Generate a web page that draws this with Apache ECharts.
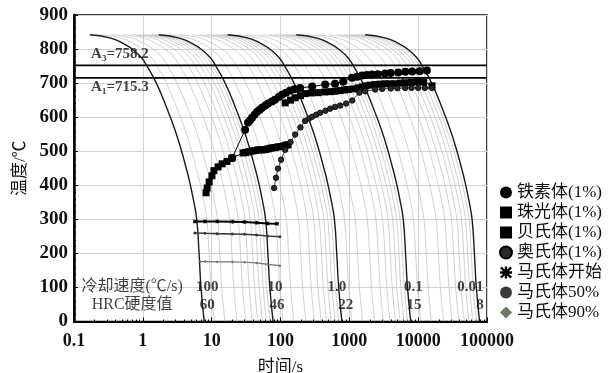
<!DOCTYPE html>
<html>
<head>
<meta charset="utf-8">
<script src="https://cdn.jsdelivr.net/npm/echarts@6/dist/echarts.min.js"></script>
<style>html,body{margin:0;padding:0;background:#fff;}#c{width:614px;height:373px;}</style>
</head>
<body>
<div id="c"></div>
<script>
// ---- data ----
// base cooling curve (100 °C/s), time in s and temperature in °C
const coolTimes = [0.17, 0.33, 0.5, 0.72, 0.95, 1.15, 1.57, 2.2, 2.9, 3.6, 4.2, 4.7, 5.4, 6.07, 6.56, 7.0, 7.8];
const coolTemps = [842, 833, 818, 798, 775, 750, 700, 630, 565, 505, 455, 417, 360, 300, 200, 100, 0];
// bold curves: 100, 10, 1.0, 0.1, 0.01 °C/s (time scale of each)
const boldScales = [1, 10, 100, 1000, 10000];
// thin curves inside each decade (time scale relative to bold curve)
const thinScales = [1.4, 2, 3, 4, 5, 6, 7, 8, 9];

const ferriteTime = [19.8, 30.6, 33.8, 36, 38.6, 42, 45.7, 50, 54, 60, 66, 75, 83, 94, 105, 120, 138, 160, 193, 288, 446, 620, 815, 1096, 1300, 1535, 1800, 2140, 2600, 3300, 4000, 5130, 6500, 8200, 10500, 13400];
const ferriteTemp = [480, 563, 584, 590, 598, 607, 616, 622, 628, 634, 640, 646, 651, 659, 666, 672, 678, 682, 686, 690, 696, 698, 704, 716, 719, 722, 724, 725, 726, 728, 730, 731, 733, 734, 735, 737];

const pearliteTime = [117, 140, 163, 195, 228, 280, 352, 440, 530, 620, 735, 850, 960, 1150, 1350, 1550, 1750, 2000, 2370, 2800, 3300, 3900, 4650, 5500, 6460, 8000, 10000, 12000, 15900];
const pearliteTemp = [642, 650, 657, 663, 669, 671, 672, 674, 675, 676, 678, 680, 681, 683, 686, 689, 692, 694, 696, 697, 698, 698, 698, 700, 701, 702, 704, 703, 692];

const bainiteTime = [8.3, 8.6, 9.2, 10.1, 10.8, 12.4, 14.2, 16.7, 19.8, 28.6, 31, 33.8, 36, 40, 43, 47, 51, 56, 61, 66, 72, 78, 85, 92, 102, 113, 121, 129];
const bainiteTemp = [378, 392, 410, 428, 443, 454, 463, 470, 480, 495, 496, 498, 499, 501, 502, 504, 504, 504, 505, 507, 509, 510, 511, 513, 514, 516, 518, 519];

const austeniteTime = [80.7, 86, 92, 102, 117, 140, 163, 195, 228, 260, 288, 330, 377, 450, 525, 620, 735, 900, 1100, 1400, 1700, 2370, 3000, 4000, 5000, 6460, 8000, 10000, 12500, 15900];
const austeniteTemp = [392, 422, 449, 475, 504, 527, 549, 570, 589, 596, 601, 607, 613, 619, 625, 630, 634, 640, 649, 672, 676, 681, 683, 684, 685, 686, 686, 686, 686, 686];

const msTime = [5.7, 8, 12, 20, 30, 45, 65, 89];
const msTemp = [294, 294, 294, 293, 292, 290, 288, 287];
const m50Time = [5.7, 8, 12, 20, 30, 45, 65, 98];
const m50Temp = [260, 259, 258, 257, 256, 254, 251, 249];
const m90Time = [6.8, 8, 12, 20, 30, 45, 65, 98];
const m90Temp = [176, 176, 175, 175, 174, 172, 168, 164];

const A3 = 752.2, A1 = 715.3;
const A3Label = 'A₃=758.2', A1Label = 'A₁=715.3';

const rateTitle = '冷却速度(℃/s)';
const hrcTitle = 'HRC硬度值';
const rateLabels = ['100', '10', '1.0', '0.1', '0.01'];
const rateLabelTimes = [8.6, 83, 660, 8500, 57500];
const hrcLabels = ['60', '46', '22', '15', '8'];
const hrcLabelTimes = [8.6, 89, 890, 8700, 79000];

const legendNames = ['铁素体(1%)', '珠光体(1%)', '贝氏体(1%)', '奥氏体(1%)', '马氏体开始', '马氏体50%', '马氏体90%'];

// ---- build ----
const serif = "'Liberation Serif','Noto Sans CJK SC',serif";
const zip = (a, b) => a.map((v, i) => [v, b[i]]);
const starPath = 'path://M4,0H6V4H10V6H6V10H4V6H0V4H4Z M1.4,0L5,3.6L8.6,0L10,1.4L6.4,5L10,8.6L8.6,10L5,6.4L1.4,10L0,8.6L3.6,5L0,1.4Z';

const series = [];
boldScales.forEach((s, i) => {
  if (i < boldScales.length - 1) {
    thinScales.forEach(m => {
      series.push({
        type: 'line', silent: true, showSymbol: false, smooth: true, z: 1,
        data: coolTimes.map((t, k) => [t * s * m, coolTemps[k]]),
        lineStyle: { color: '#bcbcbc', width: 0.7 }
      });
    });
  }
  series.push({
    type: 'line', silent: true, showSymbol: false, smooth: true, z: 2,
    data: coolTimes.map((t, k) => [t * s, coolTemps[k]]),
    lineStyle: { color: '#1a1a1a', width: 1.4 }
  });
});

// critical lines
[A3, A1].forEach(v => series.push({
  type: 'line', silent: true, showSymbol: false, z: 3,
  data: [[0.1, v], [100000, v]],
  lineStyle: { color: '#000', width: 1.8 }
}));

series.push({
  name: legendNames[0], type: 'line', z: 6, data: zip(ferriteTime, ferriteTemp),
  symbol: 'circle', symbolSize: 8, itemStyle: { color: '#000' }, lineStyle: { color: '#000', width: 1 }
});
series.push({
  name: legendNames[1], type: 'line', z: 6, data: zip(pearliteTime, pearliteTemp),
  symbol: 'rect', symbolSize: 7, itemStyle: { color: '#000' }, lineStyle: { color: '#000', width: 1 }
});
series.push({
  name: legendNames[2], type: 'line', z: 6, data: zip(bainiteTime, bainiteTemp),
  symbol: 'rect', symbolSize: 7, itemStyle: { color: '#000' }, lineStyle: { color: '#000', width: 1 }
});
series.push({
  name: legendNames[3], type: 'line', z: 6, data: zip(austeniteTime, austeniteTemp),
  symbol: 'circle', symbolSize: 5.5, itemStyle: { color: '#2a2a2a', borderColor: '#000', borderWidth: 0.8 },
  lineStyle: { color: '#333', width: 0.9 }
});
series.push({
  name: legendNames[4], type: 'line', z: 5, data: zip(msTime, msTemp),
  symbol: starPath, symbolSize: 4, itemStyle: { color: '#000' }, lineStyle: { color: '#000', width: 2 }
});
series.push({
  name: legendNames[5], type: 'line', z: 5, data: zip(m50Time, m50Temp),
  symbol: 'circle', symbolSize: 3, itemStyle: { color: '#3a3a3a' }, lineStyle: { color: '#3a3a3a', width: 1.6 }
});
series.push({
  name: legendNames[6], type: 'line', z: 5, data: zip(m90Time, m90Temp),
  symbol: 'diamond', symbolSize: 3, itemStyle: { color: '#6b7a64' }, lineStyle: { color: '#6b7a64', width: 1.2 }
});

// text labels placed in data coordinates
const textData = [];
textData.push({ value: [0.177, 785, A3Label], label: { align: 'left' } });
textData.push({ value: [0.177, 687, A1Label], label: { align: 'left' } });
textData.push({ value: [0.7, 101, rateTitle], label: { fontSize: 16, fontWeight: 'normal' } });
textData.push({ value: [0.7, 49, hrcTitle], label: { fontSize: 16, fontWeight: 'normal' } });
rateLabels.forEach((t, i) => textData.push({ value: [rateLabelTimes[i], 101, t] }));
hrcLabels.forEach((t, i) => textData.push({ value: [hrcLabelTimes[i], 49, t] }));
series.push({
  type: 'scatter', silent: true, z: 8, symbolSize: 0, data: textData,
  label: {
    show: true, position: 'inside', formatter: p => p.value[2],
    fontFamily: serif, fontSize: 15, fontWeight: 'bold', color: '#111', align: 'center', verticalAlign: 'middle'
  }
});

const chart = echarts.init(document.getElementById('c'), null, { renderer: 'canvas' });
chart.setOption({
  animation: false,
  backgroundColor: '#fff',
  grid: {
    left: 74, right: 127, top: 15, bottom: 51.5, containLabel: false, outerBoundsMode: 'none',
    show: true, borderColor: '#000', borderWidth: 1.5
  },
  legend: {
    orient: 'vertical', left: 494, top: 179, itemWidth: 12, itemHeight: 12, itemGap: 3, selectedMode: false,
    textStyle: { fontFamily: serif, fontSize: 17, lineHeight: 17, color: '#111' },
    data: [
      { name: legendNames[0], icon: 'circle' },
      { name: legendNames[1], icon: 'rect' },
      { name: legendNames[2], icon: 'rect' },
      { name: legendNames[3], icon: 'circle' },
      { name: legendNames[4], icon: starPath },
      { name: legendNames[5], icon: 'circle' },
      { name: legendNames[6], icon: 'diamond' }
    ]
  },
  xAxis: {
    type: 'log', logBase: 10, min: 0.1, max: 100000,
    name: '时间/s', nameLocation: 'middle', nameGap: 38,
    nameTextStyle: { fontFamily: serif, fontSize: 17, color: '#111' },
    axisLine: { show: true, lineStyle: { color: '#000', width: 2 } },
    axisTick: { show: true, inside: true, length: 4, lineStyle: { color: '#000' } },
    minorTick: { show: true, splitNumber: 9, length: 2, lineStyle: { color: '#000' } },
    axisLabel: {
      fontFamily: serif, fontSize: 18, fontWeight: 'bold', color: '#111', margin: 11,
      formatter: v => String(+(+v).toPrecision(6))
    },
    splitLine: { show: true, lineStyle: { color: '#d2d2d2', width: 1 } }
  },
  yAxis: {
    type: 'value', min: 0, max: 900, interval: 100,
    name: '温度/℃', nameLocation: 'middle', nameGap: 43, nameRotate: 90,
    nameTextStyle: { fontFamily: serif, fontSize: 17, color: '#111' },
    axisLine: { show: true, lineStyle: { color: '#000', width: 2.5 } },
    axisTick: { show: true, inside: true, length: 4, lineStyle: { color: '#000' } },
    minorTick: { show: true, splitNumber: 5, length: 2, lineStyle: { color: '#000' } },
    axisLabel: { fontFamily: serif, fontSize: 19, fontWeight: 'bold', color: '#111', margin: 6 },
    splitLine: { show: true, lineStyle: { color: '#d2d2d2', width: 1 } }
  },
  series: series
});
</script>
</body>
</html>
